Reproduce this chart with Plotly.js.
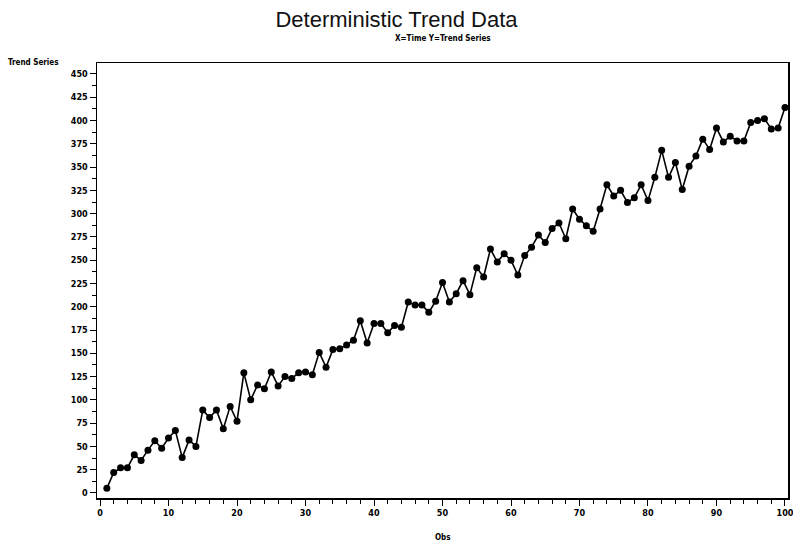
<!DOCTYPE html>
<html>
<head>
<meta charset="utf-8">
<script src="https://cdn.plot.ly/plotly-3.0.1.min.js"></script>
<style>html,body{margin:0;padding:0;background:#fff;}#chart{width:793px;height:541px;}</style>
</head>
<body>
<div id="chart"></div>
<script>
const obs = [];
for (let i = 1; i <= 100; i++) obs.push(i);
const trendSeries = [
  5, 22, 27, 27, 41, 35, 46, 56, 48, 59,
  67, 38, 57, 50, 89, 81, 89, 69, 93, 77,
  129, 100, 116, 112, 130, 115, 125, 123, 129, 130,
  127, 151, 135, 154, 155, 159, 164, 185, 161, 182,
  182, 172, 180, 178, 205, 202, 202, 194, 206, 226,
  205, 214, 228, 213, 242, 232, 262, 248, 257, 250,
  234, 255, 264, 277, 269, 284, 290, 273, 305, 294,
  287, 281, 305, 331, 319, 325, 312, 317, 331, 314,
  339, 368, 339, 355, 326, 351, 362, 380, 369, 392,
  377, 383, 378, 378, 398, 400, 402, 391, 392, 414
];
const xTickVals = [0, 10, 20, 30, 40, 50, 60, 70, 80, 90, 100];
const yTickVals = [0, 25, 50, 75, 100, 125, 150, 175, 200, 225, 250, 275, 300, 325, 350, 375, 400, 425, 450];

const tickFont = {family: 'DejaVu Sans Condensed, DejaVu Sans, sans-serif', size: 9, color: '#000', weight: 'bold'};

const trace = {
  x: obs, y: trendSeries, type: 'scatter', mode: 'lines+markers',
  line: {color: '#000', width: 1.6},
  marker: {color: '#000', size: 7, symbol: 'circle'},
  hoverinfo: 'x+y'
};

const layout = {
  width: 793, height: 541,
  margin: {l: 97, r: 5, t: 63, b: 43},
  paper_bgcolor: '#fff', plot_bgcolor: '#fff',
  showlegend: false,
  xaxis: {
    range: [-0.44, 100.44], tickvals: xTickVals, ticktext: xTickVals.map(String),
    ticks: 'outside', ticklen: 6, tickwidth: 1, tickcolor: '#000',
    minor: {dtick: 2, tick0: 0, ticks: 'outside', ticklen: 4, tickcolor: '#000'},
    showline: true, linecolor: '#000', linewidth: 1.5, mirror: true,
    showgrid: false, zeroline: false, tickfont: tickFont,
    ticklabeloverflow: 'allow'
  },
  yaxis: {
    range: [-5.4, 461.8], tickvals: yTickVals, ticktext: yTickVals.map(String),
    ticks: 'outside', ticklen: 6, tickwidth: 1, tickcolor: '#000',
    minor: {dtick: 12.5, tick0: 0, ticks: 'outside', ticklen: 4, tickcolor: '#000'},
    showline: true, linecolor: '#000', linewidth: 1.5, mirror: true,
    showgrid: false, zeroline: false, tickfont: tickFont
  },
  title: {
    text: 'Deterministic Trend Data',
    font: {family: 'Liberation Sans, Arial, sans-serif', size: 22, color: '#111', weight: 'normal'},
    x: 0.5, xanchor: 'center', y: 0.965, yanchor: 'middle'
  },
  annotations: [
    {text: 'X=Time Y=Trend Series', xref: 'paper', yref: 'paper', x: 0.5, y: 1.0,
     xanchor: 'center', yanchor: 'bottom', yshift: 18, showarrow: false,
     font: {family: 'DejaVu Sans Condensed, DejaVu Sans, sans-serif', size: 8, color: '#000', weight: 'bold'}},
    {text: 'Trend Series', xref: 'paper', yref: 'paper', x: 0, y: 1.0,
     xanchor: 'right', yanchor: 'bottom', xshift: -36, yshift: -6, showarrow: false,
     font: {family: 'DejaVu Sans Condensed, DejaVu Sans, sans-serif', size: 8, color: '#000', weight: 'bold'}},
    {text: 'Obs', xref: 'paper', yref: 'paper', x: 0.5, y: 0,
     xanchor: 'center', yanchor: 'top', yshift: -33, showarrow: false,
     font: {family: 'DejaVu Sans Condensed, DejaVu Sans, sans-serif', size: 8, color: '#000', weight: 'bold'}}
  ]
};

Plotly.newPlot('chart', [trace], layout, {displayModeBar: false, staticPlot: true});
</script>
</body>
</html>
